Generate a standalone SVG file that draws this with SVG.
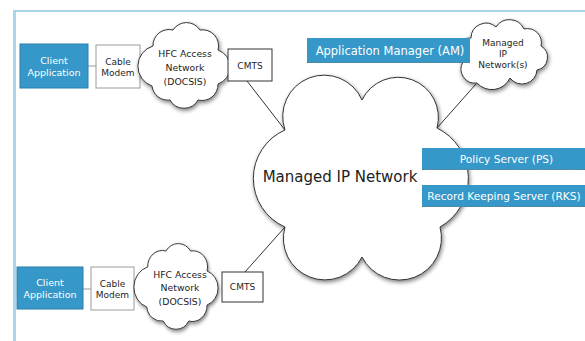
<svg xmlns="http://www.w3.org/2000/svg" width="585" height="341" viewBox="0 0 585 341">
<defs>
<style>
text{font-family:"DejaVu Sans",Verdana,sans-serif;text-anchor:middle;}
.blue{fill:#3698c9;stroke:#2a7fae;stroke-width:1;}
.bar{fill:#3698c9;}
.dash{stroke:#5a7f95;stroke-width:1;stroke-dasharray:2 1.5;fill:none;}
.wt{fill:#ffffff;}
.bk{fill:#1e1e1e;}
.box{fill:#ffffff;stroke:#9a9a9a;stroke-width:1;}
.dbox{fill:#ffffff;stroke:#333333;stroke-width:1;}
.cloud{fill:#ffffff;stroke:#333333;stroke-width:1;filter:url(#sh);}
.ln{stroke:#333333;stroke-width:1;fill:none;}
.lg{stroke:#999999;stroke-width:1;fill:none;}
</style>
<filter id="sh" x="-20%" y="-20%" width="140%" height="140%">
<feGaussianBlur in="SourceAlpha" stdDeviation="2"/>
<feOffset dx="1" dy="1.5"/>
<feComponentTransfer><feFuncA type="linear" slope="0.5"/></feComponentTransfer>
<feMerge><feMergeNode/><feMergeNode in="SourceGraphic"/></feMerge>
</filter>
<path id="hfc" d="M153,46 A16,16 0 0 1 173,30 A16,16 0 0 1 200,30 A16,16 0 0 1 218,50 A18,18 0 0 1 218,84 A16,16 0 0 1 198,100 A16,16 0 0 1 170,100 A16,16 0 0 1 152,86 A21,21 0 0 1 153,46 Z"/>
</defs>
<rect x="0" y="0" width="585" height="341" fill="#ffffff"/>
<g id="frame">
<line x1="13" y1="11" x2="585" y2="11" stroke="#a9d6eb" stroke-width="2"/>
<line x1="14.5" y1="10" x2="14.5" y2="341" stroke="#a9d6eb" stroke-width="3"/>
</g>
<g id="connectors">
<line class="lg" x1="88" y1="66" x2="96" y2="66"/>
<line class="lg" x1="83" y1="289" x2="91" y2="289"/>
<line class="ln" x1="247" y1="81" x2="285" y2="130"/>
<line class="ln" x1="245" y1="272" x2="285" y2="227"/>
<line class="ln" x1="476" y1="84" x2="437" y2="128"/>
</g>
<g id="managed-ip-network">
<path class="cloud" d="M285,130 A41.35,41.35 0 0 1 362,100 A40.2,40.2 0 0 1 437,128 A56,56 0 0 1 440,227 A42,42 0 0 1 362,257 A41.5,41.5 0 0 1 285,227 A53,53 0 0 1 285,130 Z"/>
<text x="340" y="182" font-size="15" fill="#222">Managed IP Network</text>
</g>
<g id="client-app-1">
<rect class="blue" x="20" y="44" width="68" height="44"/>
<text class="wt" x="54" y="63.5" font-size="9.5">Client</text>
<text class="wt" x="54" y="75.5" font-size="9.5">Application</text>
</g>
<g id="cable-modem-1">
<rect class="box" x="96" y="45" width="44" height="43"/>
<text class="bk" x="118" y="65" font-size="9">Cable</text>
<text class="bk" x="118" y="76" font-size="9">Modem</text>
</g>
<g id="hfc-1">
<use href="#hfc" class="cloud"/>
<text class="bk" x="185" y="57" font-size="9.3">HFC Access</text>
<text class="bk" x="185" y="71" font-size="9.3">Network</text>
<text class="bk" x="185" y="85" font-size="9.3">(DOCSIS)</text>
</g>
<g id="cmts-1">
<rect class="dbox" x="228" y="49" width="44" height="32"/>
<text class="bk" x="250" y="68.5" font-size="9">CMTS</text>
</g>
<g id="client-app-2">
<rect class="blue" x="17" y="267" width="66" height="42"/>
<text class="wt" x="50" y="285.5" font-size="9.5">Client</text>
<text class="wt" x="50" y="297.5" font-size="9.5">Application</text>
</g>
<g id="cable-modem-2">
<rect class="box" x="91" y="267" width="43" height="43"/>
<text class="bk" x="112.5" y="286.5" font-size="9">Cable</text>
<text class="bk" x="112.5" y="297.5" font-size="9">Modem</text>
</g>
<g id="hfc-2">
<use href="#hfc" class="cloud" transform="translate(134,243) scale(0.913,1) translate(-138,-22)"/>
<text class="bk" x="180" y="277.5" font-size="9.3">HFC Access</text>
<text class="bk" x="180" y="291" font-size="9.3">Network</text>
<text class="bk" x="180" y="304.5" font-size="9.3">(DOCSIS)</text>
</g>
<g id="cmts-2">
<rect class="dbox" x="222" y="272" width="41" height="30"/>
<text class="bk" x="242.5" y="290" font-size="9">CMTS</text>
</g>
<g id="managed-ip-networks">
<path class="cloud" d="M471,38 A15,15 0 0 1 496,27 A16,16 0 0 1 524,29 A14,14 0 0 1 541,46 A13,13 0 0 1 537,70 A15,15 0 0 1 510,78 A20,20 0 0 1 477,83 A14,14 0 0 1 463,62 A13,13 0 0 1 471,38 Z"/>
<text class="bk" x="503" y="46" font-size="9">Managed</text>
<text class="bk" x="503" y="57" font-size="9">IP</text>
<text class="bk" x="503" y="68" font-size="9">Network(s)</text>
</g>
<g id="application-manager">
<rect class="bar" x="307" y="38" width="163" height="25"/>
<line class="dash" x1="307" y1="62.5" x2="470" y2="62.5"/>
<text class="wt" x="390" y="54.5" font-size="11.5">Application Manager (AM)</text>
</g>
<g id="policy-server">
<rect class="bar" x="422" y="148" width="163" height="22"/>
<line class="dash" x1="422" y1="169.5" x2="585" y2="169.5"/>
<text class="wt" x="506.5" y="162.5" font-size="10.6">Policy Server (PS)</text>
</g>
<g id="record-keeping-server">
<rect class="bar" x="422" y="185" width="163" height="22"/>
<line class="dash" x1="422" y1="206.5" x2="585" y2="206.5"/>
<text class="wt" x="504" y="199.5" font-size="10.6">Record Keeping Server (RKS)</text>
</g>
</svg>
